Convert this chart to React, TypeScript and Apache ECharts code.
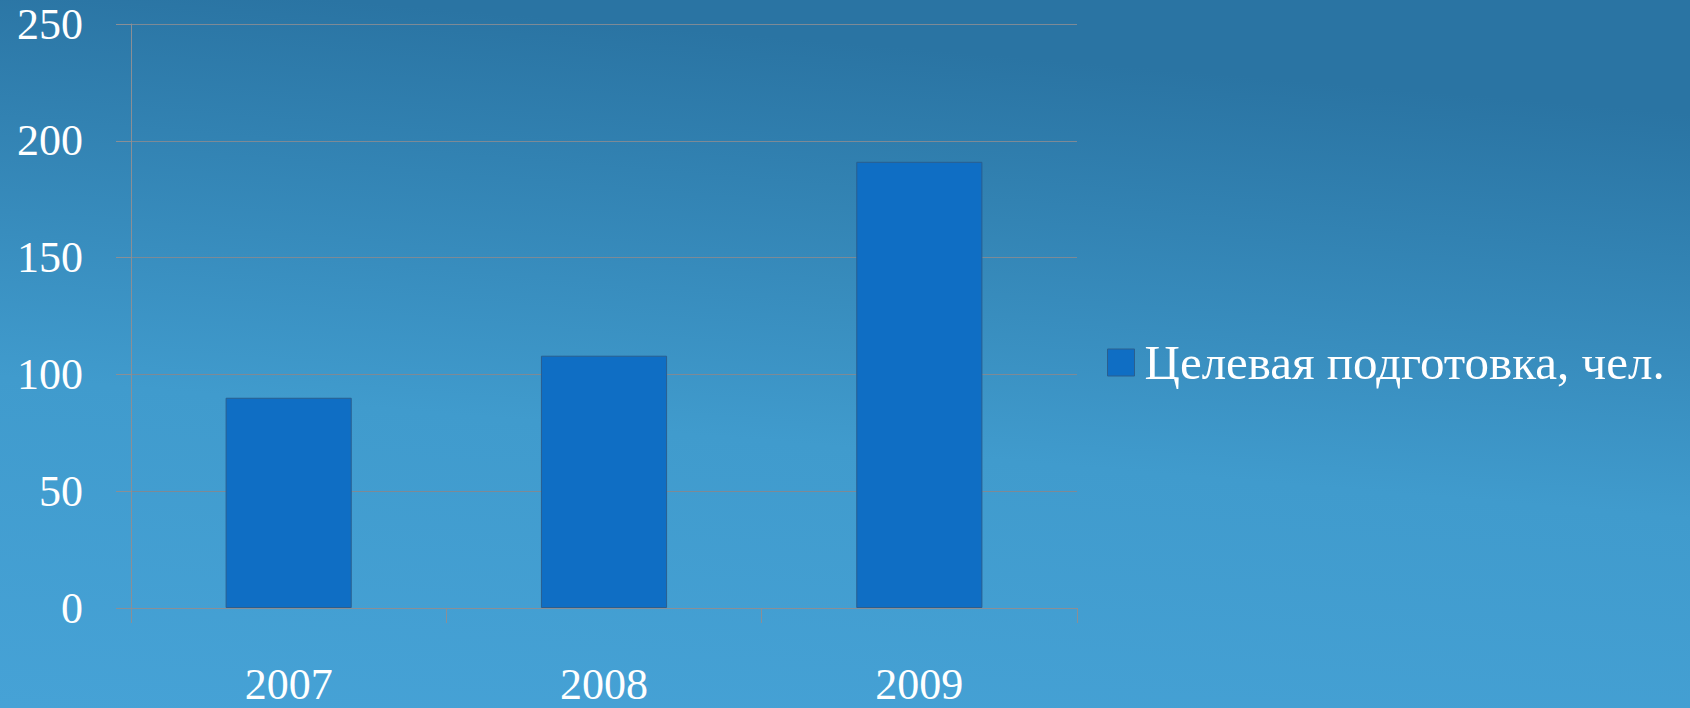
import React, { useEffect, useRef } from "react";
import * as echarts from "echarts";

const categories = ["2007", "2008", "2009"];
const seriesName = "Целевая подготовка, чел.";
const values = [90, 108, 191];
const yTicks = { min: 0, max: 250, interval: 50 };

export default function App() {
  const ref = useRef<HTMLDivElement>(null);
  useEffect(() => {
    if (!ref.current) return;
    const chart = echarts.init(ref.current, undefined, { renderer: "svg" });
    const font = "'Liberation Serif', 'DejaVu Serif', serif";
    chart.setOption({
      animation: false,
      backgroundColor: new echarts.graphic.LinearGradient(0.2, 0, 0, 1, [
        { offset: 0, color: "#2a74a3" },
        { offset: 0.55, color: "#409bcd" },
        { offset: 1, color: "#46a2d6" },
      ]),
      grid: { left: 131, right: 613, top: 24, bottom: 100 },
      legend: {
        left: 1102,
        top: 333,
        orient: "vertical",
        icon: "rect",
        itemWidth: 27,
        itemHeight: 27,
        itemStyle: { borderColor: "#2a5f8f", borderWidth: 1 },
        textStyle: { color: "#ffffff", fontSize: 49, fontFamily: font, padding: [0, 0, 0, 5] },
        data: [seriesName],
      },
      xAxis: {
        type: "category",
        data: categories,
        axisLine: { show: true, lineStyle: { color: "#8a8f96", width: 1 } },
        axisTick: { show: true, length: 15, alignWithLabel: false, lineStyle: { color: "#8a8f96" } },
        axisLabel: { color: "#ffffff", fontSize: 44, lineHeight: 40, fontFamily: font, margin: 56 },
        splitLine: { show: false },
      },
      yAxis: {
        type: "value",
        min: yTicks.min,
        max: yTicks.max,
        interval: yTicks.interval,
        axisLine: { show: true, lineStyle: { color: "#8a8f96", width: 1 } },
        axisTick: { show: true, length: 15, inside: false, lineStyle: { color: "#8a8f96" } },
        axisLabel: { color: "#ffffff", fontSize: 44, fontFamily: font, margin: 48 },
        splitLine: { show: true, lineStyle: { color: "#7d8a96", width: 1 } },
      },
      series: [
        {
          name: seriesName,
          type: "bar",
          data: values,
          barWidth: "40%",
          itemStyle: { color: "#0f6ec4", borderColor: "#2a5f8f", borderWidth: 1 },
        },
      ],
    });
    return () => chart.dispose();
  }, []);
  return (
    <div
      ref={ref}
      style={{ position: "absolute", left: 0, top: 0, width: 1690, height: 708 }}
    />
  );
}
